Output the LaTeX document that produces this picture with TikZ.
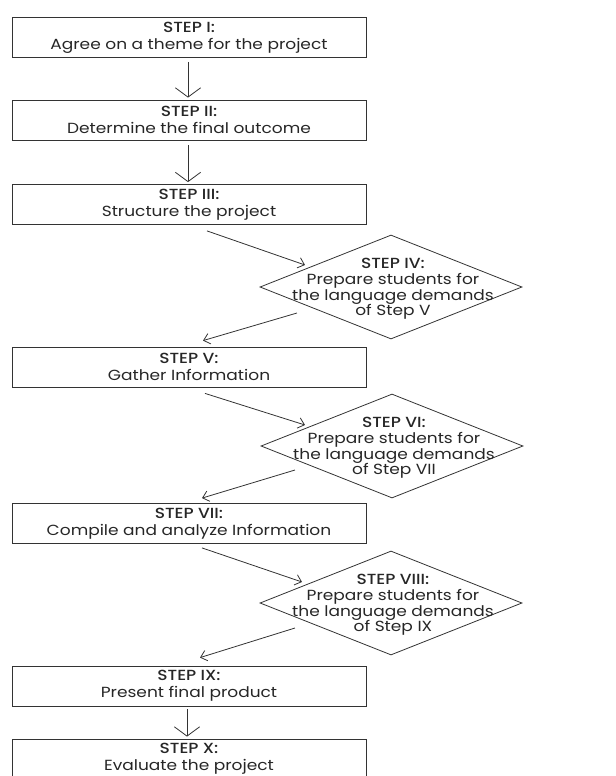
\documentclass[tikz,border=0pt]{standalone}
\usepackage{fontspec}
\setmainfont{Poppins}[BoldFont={Poppins Medium}, FakeStretch=1.16]
\usetikzlibrary{shapes.geometric,arrows.meta,calc}

\tikzset{
    stepbox/.style={draw=black!80, line width=0.6pt, minimum width=265.5pt, minimum height=30pt, inner sep=0pt, align=center, font=\fontsize{11}{12.8}\selectfont, text=black!85},
    stepdiamond/.style={draw=black!80, line width=0.6pt, diamond, minimum width=196.5pt, minimum height=78pt, inner sep=0pt},
    steptext/.style={align=center, inner sep=0pt, font=\fontsize{11}{11.8}\selectfont, text=black!85},
    downarrow/.style={draw=black!80, line width=0.6pt, -{Straight Barb[length=7pt,width=19pt]}},
    sidearrow/.style={draw=black!80, line width=0.6pt, -{Straight Barb[length=4.5pt,width=8pt]}}
}

\begin{document}
\begin{tikzpicture}[x=0.75pt,y=0.75pt,yscale=-1,xscale=1]
    %set diagram size to 616 x 776
    \path[use as bounding box, clip] (0,0) rectangle (616,776);

    %Shape: Rectangle [id:step1]
    \node[stepbox] (s1) at (189,37.5) {\textbf{STEP I:}\\Agree on a theme for the project};
    %Shape: Rectangle [id:step2]
    \node[stepbox] (s2) at (189,120) {\textbf{STEP II:}\\Determine the final outcome};
    %Shape: Rectangle [id:step3]
    \node[stepbox] (s3) at (189,204.5) {\textbf{STEP III:}\\Structure the project};

    %Shape: Diamond [id:step4]
    \node[stepdiamond] (d4) at (391,287) {};
    % Text Node
    \node[steptext] (t4) at (393,289) {\textbf{STEP IV:}\\Prepare students for\\the language demands\\of Step V};

    %Shape: Rectangle [id:step5]
    \node[stepbox] (s5) at (189,367) {\textbf{STEP V:}\\Gather Information};

    %Shape: Diamond [id:step6]
    \node[stepdiamond] (d6) at (392,446) {};
    % Text Node
    \node[steptext] (t6) at (394,448) {\textbf{STEP VI:}\\Prepare students for\\the language demands\\of Step VII};

    %Shape: Rectangle [id:step7]
    \node[stepbox] (s7) at (189,523.5) {\textbf{STEP VII:}\\Compile and analyze Information};

    %Shape: Diamond [id:step8]
    \node[stepdiamond] (d8) at (391,603) {};
    % Text Node
    \node[steptext] (t8) at (393,605) {\textbf{STEP VIII:}\\Prepare students for\\the language demands\\of Step IX};

    %Shape: Rectangle [id:step9]
    \node[stepbox] (s9) at (189,686) {\textbf{STEP IX:}\\Present final product};
    %Shape: Rectangle [id:step10]
    \node[stepbox] (s10) at (189,759) {\textbf{STEP X:}\\Evaluate the project};

    %Straight Lines [id:down arrows]
    \draw[downarrow] ($(s1.south)+(-1,4)$) -- ($(s2.north)+(-1,-2)$);
    \draw[downarrow] ($(s2.south)+(-1,5)$) -- ($(s3.north)+(-1,-2)$);
    \draw[downarrow] ($(s9.south)+(-2,3)$) -- ($(s10.north)+(-2,-2)$);

    %Straight Lines [id:side arrows]
    \draw[sidearrow] ($(s3.south)+(18,6)$) -- ($(d4.center)+(-86,-22)$);
    \draw[sidearrow] ($(d4.center)+(-94,26)$) -- ($(s5.north)+(14,-6)$);
    \draw[sidearrow] ($(s5.south)+(16,6)$) -- ($(d6.center)+(-87,-21)$);
    \draw[sidearrow] ($(d6.center)+(-97,24)$) -- ($(s7.north)+(13,-5)$);
    \draw[sidearrow] ($(s7.south)+(13,4)$) -- ($(d8.center)+(-89,-21)$);
    \draw[sidearrow] ($(d8.center)+(-96,25)$) -- ($(s9.north)+(11,-8)$);
\end{tikzpicture}
\end{document}
